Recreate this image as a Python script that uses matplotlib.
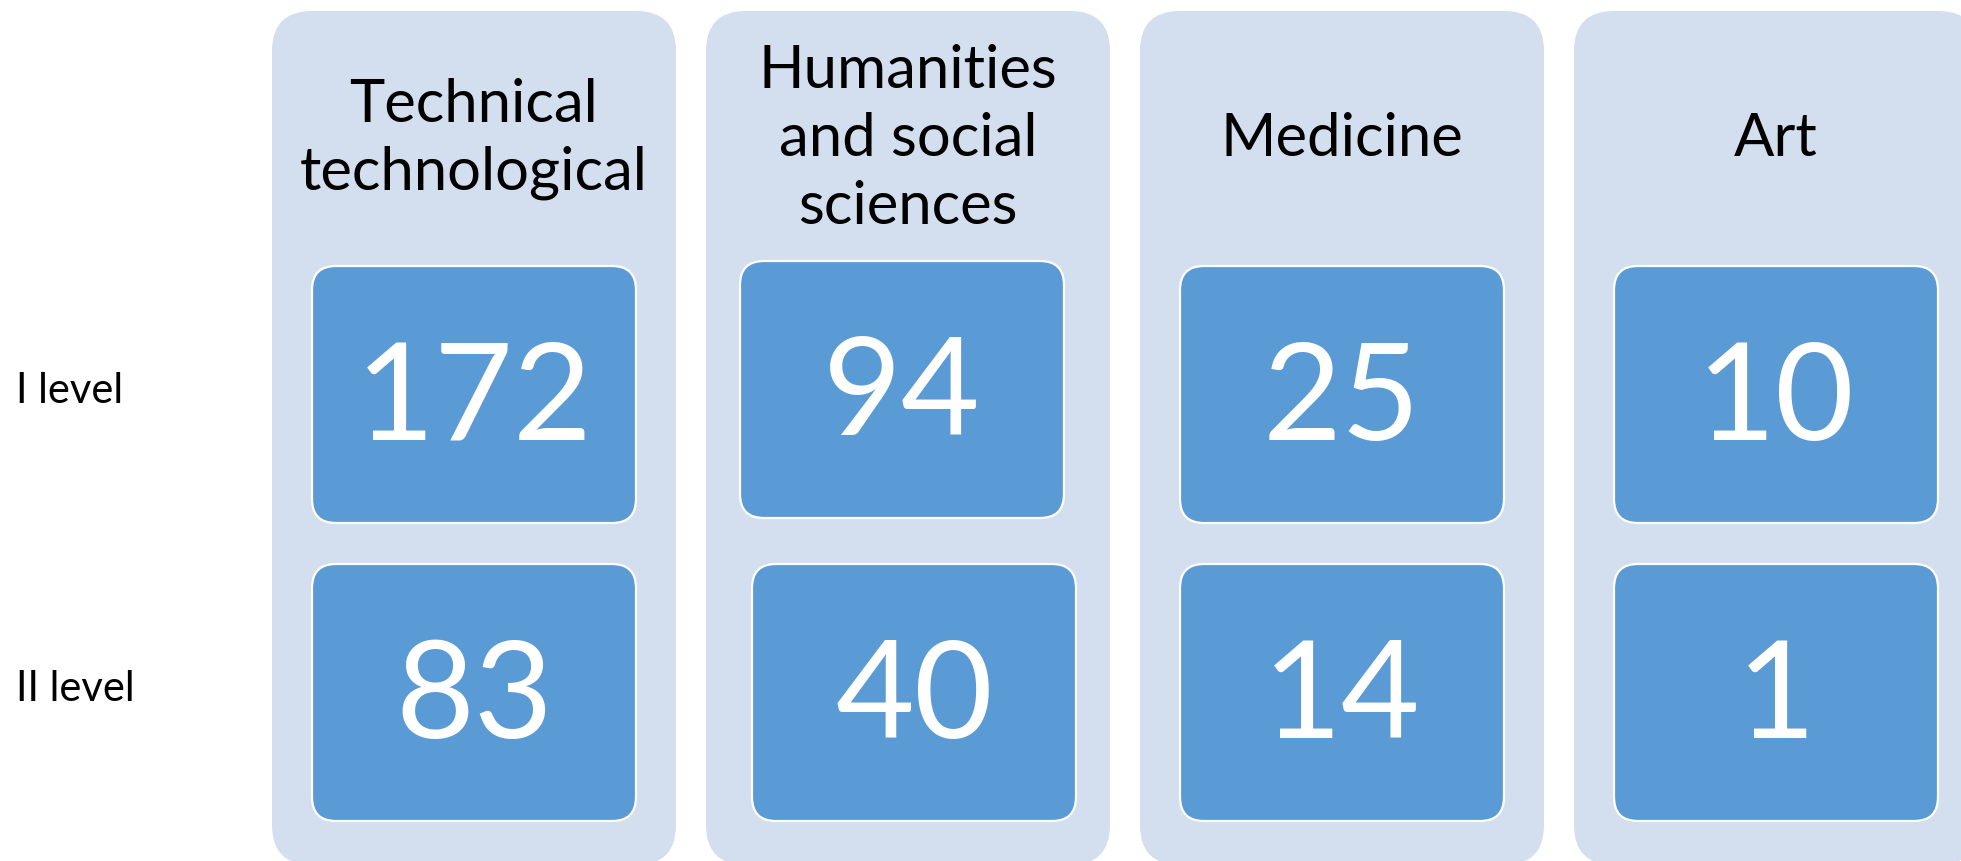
import matplotlib.pyplot as plt
from matplotlib.patches import FancyBboxPatch

# data
categories = ["Technical\ntechnological", "Humanities\nand social\nsciences", "Medicine", "Art"]
level_1 = [172, 94, 25, 10]
level_2 = [83, 40, 14, 1]
row_labels = ["I level", "II level"]

plt.rcParams['font.family'] = ['Lato', 'DejaVu Sans']

W, H = 1961, 862
fig = plt.figure(figsize=(W / 100, H / 100), dpi=100)
ax = fig.add_axes([0, 0, 1, 1])
ax.set_xlim(0, W)
ax.set_ylim(H, 0)
ax.axis('off')

panel_color = '#D3DEEF'
box_color = '#5B9BD5'

# layout (pixels)
x0, panel_w, step = 272, 404, 434
panel_top, panel_bot = 12, 866
inner_pad = 40
row_tops = [267, 565]
row_h = 257
title_y = 139
# small nudges seen in the original (humanities boxes are slightly off)
nudge = {(1, 0): (-6, -5), (1, 1): (6, 0)}

for i, cat in enumerate(categories):
    left = x0 + i * step
    ax.add_patch(FancyBboxPatch((left, panel_top), panel_w, panel_bot - panel_top,
                                boxstyle="round,pad=0,rounding_size=40",
                                fc=panel_color, ec='none'))
    ax.text(left + panel_w / 2, title_y, cat, ha='center', va='center',
            fontsize=43, linespacing=1.32, color='black')
    for r, vals in enumerate([level_1, level_2]):
        dx, dy = nudge.get((i, r), (0, 0))
        bx = left + inner_pad + dx
        by = row_tops[r] + dy
        bw = panel_w - 2 * inner_pad
        ax.add_patch(FancyBboxPatch((bx, by), bw, row_h,
                                    boxstyle="round,pad=0,rounding_size=24",
                                    fc=box_color, ec='white', lw=1.6))
        ax.text(bx + bw / 2, by + row_h / 2 + 6, str(vals[i]), ha='center', va='center',
                fontsize=98, color='white')

for r, lab in enumerate(row_labels):
    ax.text(16, row_tops[r] + row_h / 2 - 4, lab, ha='left', va='center',
            fontsize=30, color='black')

fig.savefig('out.png', dpi=100, facecolor='white')
